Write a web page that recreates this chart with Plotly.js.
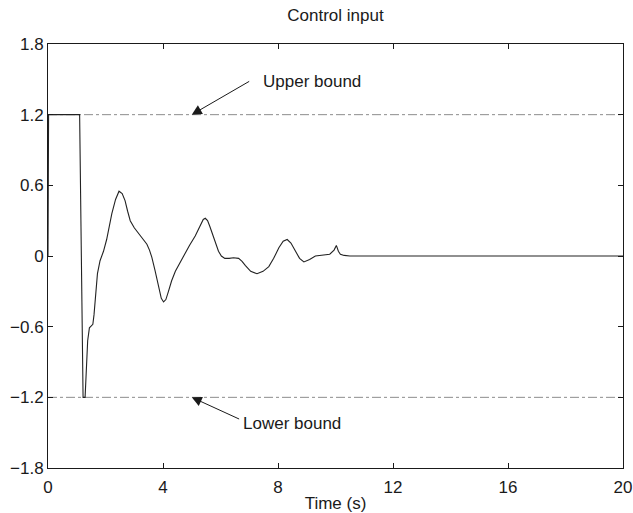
<!DOCTYPE html>
<html>
<head>
<meta charset="utf-8">
<script src="https://cdn.plot.ly/plotly-3.0.1.min.js"></script>
<style>html,body{margin:0;padding:0;background:#fff;}#chart{width:633px;height:513px;}</style>
</head>
<body>
<div id="chart"></div>
<script>
var timeS = [0, 0.02, 1.1, 1.22, 1.29, 1.33, 1.38, 1.44, 1.5, 1.56, 1.6, 1.64, 1.68, 1.72, 1.81, 1.93, 2.04, 2.13, 2.22, 2.35, 2.47, 2.58, 2.68, 2.77, 2.86, 3.0, 3.15, 3.3, 3.44, 3.53, 3.61, 3.72, 3.84, 3.94, 4.02, 4.1, 4.19, 4.3, 4.43, 4.58, 4.72, 4.92, 5.12, 5.3, 5.4, 5.47, 5.55, 5.63, 5.7, 5.8, 5.93, 6.03, 6.15, 6.3, 6.45, 6.63, 6.75, 6.86, 7.05, 7.27, 7.48, 7.68, 7.85, 8.03, 8.18, 8.32, 8.45, 8.61, 8.75, 8.9, 9.1, 9.3, 9.55, 9.8, 9.95, 10.03, 10.1, 10.17, 10.3, 10.5, 20];
var controlU = [0, 1.2, 1.2, -1.2, -1.2, -0.95, -0.72, -0.61, -0.59, -0.58, -0.5, -0.37, -0.25, -0.15, -0.04, 0.04, 0.14, 0.25, 0.36, 0.48, 0.55, 0.53, 0.47, 0.38, 0.30, 0.24, 0.19, 0.15, 0.10, 0.05, -0.01, -0.12, -0.26, -0.36, -0.39, -0.37, -0.30, -0.21, -0.13, -0.06, 0.01, 0.09, 0.17, 0.26, 0.31, 0.32, 0.30, 0.25, 0.20, 0.12, 0.04, 0.0, -0.02, -0.02, -0.015, -0.02, -0.045, -0.08, -0.13, -0.15, -0.13, -0.09, -0.02, 0.07, 0.125, 0.14, 0.11, 0.04, -0.02, -0.05, -0.03, 0.0, 0.01, 0.015, 0.05, 0.09, 0.04, 0.015, 0.005, 0.0, 0.0];
var boundT = [0, 20];
var upperBound = [1.2, 1.2];
var lowerBound = [-1.2, -1.2];
var xTicks = [0, 4, 8, 12, 16, 20];
var yTicks = [-1.8, -1.2, -0.6, 0, 0.6, 1.2, 1.8];

var font = {family: '"Liberation Sans", Arial, Helvetica, sans-serif', size: 17, color: '#1a1a1a'};

var traces = [
  {x: boundT, y: upperBound, mode: 'lines', line: {color: '#8c8c8c', width: 1, dash: 'dashdot'}, hoverinfo: 'skip'},
  {x: boundT, y: lowerBound, mode: 'lines', line: {color: '#8c8c8c', width: 1, dash: 'dashdot'}, hoverinfo: 'skip'},
  {x: timeS, y: controlU, mode: 'lines', line: {color: '#222222', width: 1.1}}
];

var axisCommon = {
  showgrid: false, zeroline: false, showline: true, mirror: 'ticks',
  linecolor: '#1a1a1a', linewidth: 1, ticks: 'inside', ticklen: 5,
  tickcolor: '#1a1a1a', tickfont: font
};

var layout = {
  width: 633, height: 513,
  margin: {l: 48, r: 10, t: 44, b: 45},
  paper_bgcolor: '#fff', plot_bgcolor: '#fff',
  showlegend: false,
  font: font,
  title: {text: 'Control input', font: font, x: 0.5, xanchor: 'center', xref: 'paper', y: 1 - 15/513, yref: 'container', yanchor: 'middle'},
  xaxis: Object.assign({}, axisCommon, {range: [0, 20], tickvals: xTicks, ticktext: xTicks.map(String), ticklabelstandoff: 4,
    title: {text: 'Time (s)', font: font, standoff: 1}}),
  yaxis: Object.assign({}, axisCommon, {range: [-1.8, 1.8], tickvals: yTicks,
    ticktext: yTicks.map(function(v){ return v < 0 ? '\u2212' + Math.abs(v).toFixed(1) : (v === 0 ? '0' : v.toFixed(1)); })}),
  annotations: [
    {x: 5.0, y: 1.2, xref: 'x', yref: 'y', ax: 7.05, ay: 1.49, axref: 'x', ayref: 'y', text: '', showarrow: true, arrowhead: 2, arrowsize: 2, arrowwidth: 1, arrowcolor: '#1a1a1a'},
    {x: 7.4, y: 1.485, xref: 'x', yref: 'y', text: 'Upper bound', showarrow: false, xanchor: 'left', yanchor: 'middle', font: font},
    {x: 5.0, y: -1.2, xref: 'x', yref: 'y', ax: 6.7, ay: -1.39, axref: 'x', ayref: 'y', text: '', showarrow: true, arrowhead: 2, arrowsize: 2, arrowwidth: 1, arrowcolor: '#1a1a1a'},
    {x: 6.72, y: -1.425, xref: 'x', yref: 'y', text: 'Lower bound', showarrow: false, xanchor: 'left', yanchor: 'middle', font: font}
  ]
};

Plotly.newPlot('chart', traces, layout, {displayModeBar: false, staticPlot: true});
</script>
</body>
</html>
